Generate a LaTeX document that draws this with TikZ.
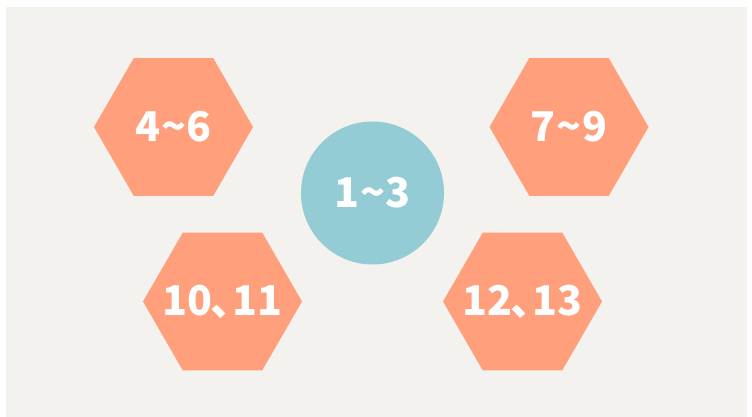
\documentclass[tikz,border=0pt]{standalone}
\usepackage{fontspec}
\newfontfamily\cjk{Noto Sans CJK SC}
\usetikzlibrary{shapes.geometric}
\definecolor{bggray}{HTML}{F3F2EE}
\definecolor{salmon}{HTML}{FF9F7B}
\definecolor{teal}{HTML}{93CCD5}
\newcommand{\tl}{\kern0.02em\textasciitilde\kern0.02em}
\newcommand{\dun}{\kern-0.06em、\kern-0.46em}
\tikzset{
  numtext/.style={text=white, font=\cjk\bfseries\fontsize{41}{41}\selectfont},
  hexa/.style={regular polygon, regular polygon sides=6, fill=salmon, draw=none,
    minimum size=159pt, inner sep=0pt},
  ball/.style={circle, fill=teal, draw=none, minimum size=143pt, inner sep=0pt}
}
\begin{document}
\begin{tikzpicture}[x=1pt,y=-1pt]
        \useasboundingbox (0,0) rectangle (752,417);
        \fill [bggray] (6,7) rectangle (747,417);
        \node [ball] (one) at (372.5,193) {};
        \node [hexa] (four) at (173.5,127) {};
        \node [hexa] (seven) at (569,127) {};
        \node [hexa] (ten) at (222.5,301.5) {};
        \node [hexa] (twelve) at (522.5,301.5) {};
        \node [numtext] (onetext) at (one) {1\tl 3};
        \node [numtext] (fourtext) at (four) {4\tl 6};
        \node [numtext] (seventext) at (seven) {7\tl 9};
        \node [numtext] (tentext) at (ten) {10\dun 11};
        \node [numtext] (twelvetext) at (twelve) {12\dun 13};
      \end{tikzpicture}
\end{document}
